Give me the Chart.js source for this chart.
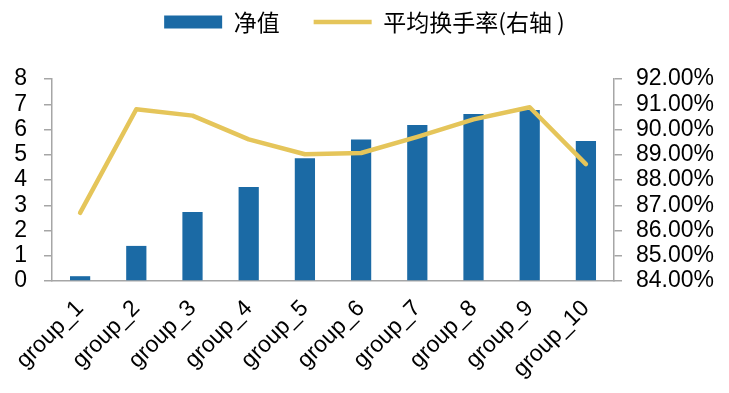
<!DOCTYPE html>
<html>
<head>
<meta charset="utf-8">
<script src="https://cdn.jsdelivr.net/npm/chart.js@4/dist/chart.umd.min.js"></script>
<style>
  html, body { margin: 0; padding: 0; background: #ffffff; }
  #wrap { width: 729px; height: 393px; }
</style>
</head>
<body>
<div id="wrap"><canvas id="c" width="729" height="393"></canvas></div>
<script>
const categories = ["group_1","group_2","group_3","group_4","group_5","group_6","group_7","group_8","group_9","group_10"];
const netValue = [0.19, 1.39, 2.73, 3.72, 4.86, 5.60, 6.18, 6.61, 6.77, 5.54];
const turnoverPct = [86.70, 90.80, 90.55, 89.61, 89.02, 89.07, 89.71, 90.40, 90.88, 88.63];
const leftTicks = [0, 1, 2, 3, 4, 5, 6, 7, 8];
const rightTicks = [84, 85, 86, 87, 88, 89, 90, 91, 92];
const seriesNames = ["净值", "平均换手率(右轴 )"];

const BAR_COLOR = "#1b6aa5";
const LINE_COLOR = "#e5c55a";
const AXIS_COLOR = "#a6a6a6";
const latin = "'Liberation Sans', Arial, Helvetica, sans-serif";
const cjk = "'Noto Sans CJK SC', 'Liberation Sans', sans-serif";

new Chart(document.getElementById("c"), {
  data: {
    labels: categories,
    datasets: [
      {
        type: "bar",
        label: seriesNames[0],
        data: netValue,
        yAxisID: "y",
        backgroundColor: BAR_COLOR,
        borderWidth: 0,
        categoryPercentage: 1,
        barPercentage: 0.36,
        pointStyle: "rect",
        order: 2
      },
      {
        type: "line",
        label: seriesNames[1],
        data: turnoverPct,
        yAxisID: "y1",
        borderColor: LINE_COLOR,
        backgroundColor: LINE_COLOR,
        borderWidth: 4.5,
        borderCapStyle: "round",
        borderJoinStyle: "round",
        pointRadius: 0,
        pointHoverRadius: 0,
        tension: 0,
        fill: false,
        pointStyle: "line",
        order: 1
      }
    ]
  },
  options: {
    responsive: false,
    animation: false,
    devicePixelRatio: 1,
    layout: { padding: { top: -23.5, left: 0, right: 0, bottom: 0 } },
    plugins: {
      tooltip: { enabled: false },
      legend: {
        display: true,
        position: "top",
        weight: 3000,
        labels: {
          usePointStyle: true,
          pointStyleWidth: 58,
          boxHeight: 13,
          padding: 34,
          color: "#000000",
          font: { family: cjk, size: 23 },
          sort: (a, b) => a.datasetIndex - b.datasetIndex
        }
      },
      title: {
        display: true,
        text: "",
        position: "top",
        weight: 2000,
        font: { size: 10, lineHeight: 1 },
        padding: { top: 25.5, bottom: 0 }
      }
    },
    scales: {
      x: {
        type: "category",
        offset: true,
        grid: { display: false, drawTicks: false },
        border: { display: true, color: AXIS_COLOR, width: 1.5 },
        ticks: {
          color: "#000000",
          font: { family: latin, size: 23 },
          minRotation: 45,
          maxRotation: 45,
          autoSkip: false,
          padding: 14
        },
        afterFit: (s) => { s.height = 112; }
      },
      y: {
        type: "linear",
        position: "left",
        min: 0,
        max: 8,
        afterBuildTicks: (s) => { s.ticks = leftTicks.map(v => ({ value: v })); },
        grid: { drawOnChartArea: false, drawTicks: true, tickLength: 8, color: AXIS_COLOR, lineWidth: 1.5 },
        border: { display: true, color: AXIS_COLOR, width: 1.5 },
        ticks: {
          color: "#000000",
          font: { family: latin, size: 23 },
          padding: 17,
          autoSkip: false,
          callback: (v) => String(v)
        },
        afterFit: (s) => { s.width = 52; }
      },
      y1: {
        type: "linear",
        position: "right",
        min: 84,
        max: 92,
        afterBuildTicks: (s) => { s.ticks = rightTicks.map(v => ({ value: v })); },
        grid: { drawOnChartArea: false, drawTicks: true, tickLength: 8, color: AXIS_COLOR, lineWidth: 1.5 },
        border: { display: true, color: AXIS_COLOR, width: 1.5 },
        ticks: {
          color: "#000000",
          font: { family: latin, size: 23 },
          padding: 14,
          autoSkip: false,
          callback: (v) => Number(v).toFixed(2) + "%"
        },
        afterFit: (s) => { s.width = 115; }
      }
    }
  }
});
</script>
</body>
</html>
